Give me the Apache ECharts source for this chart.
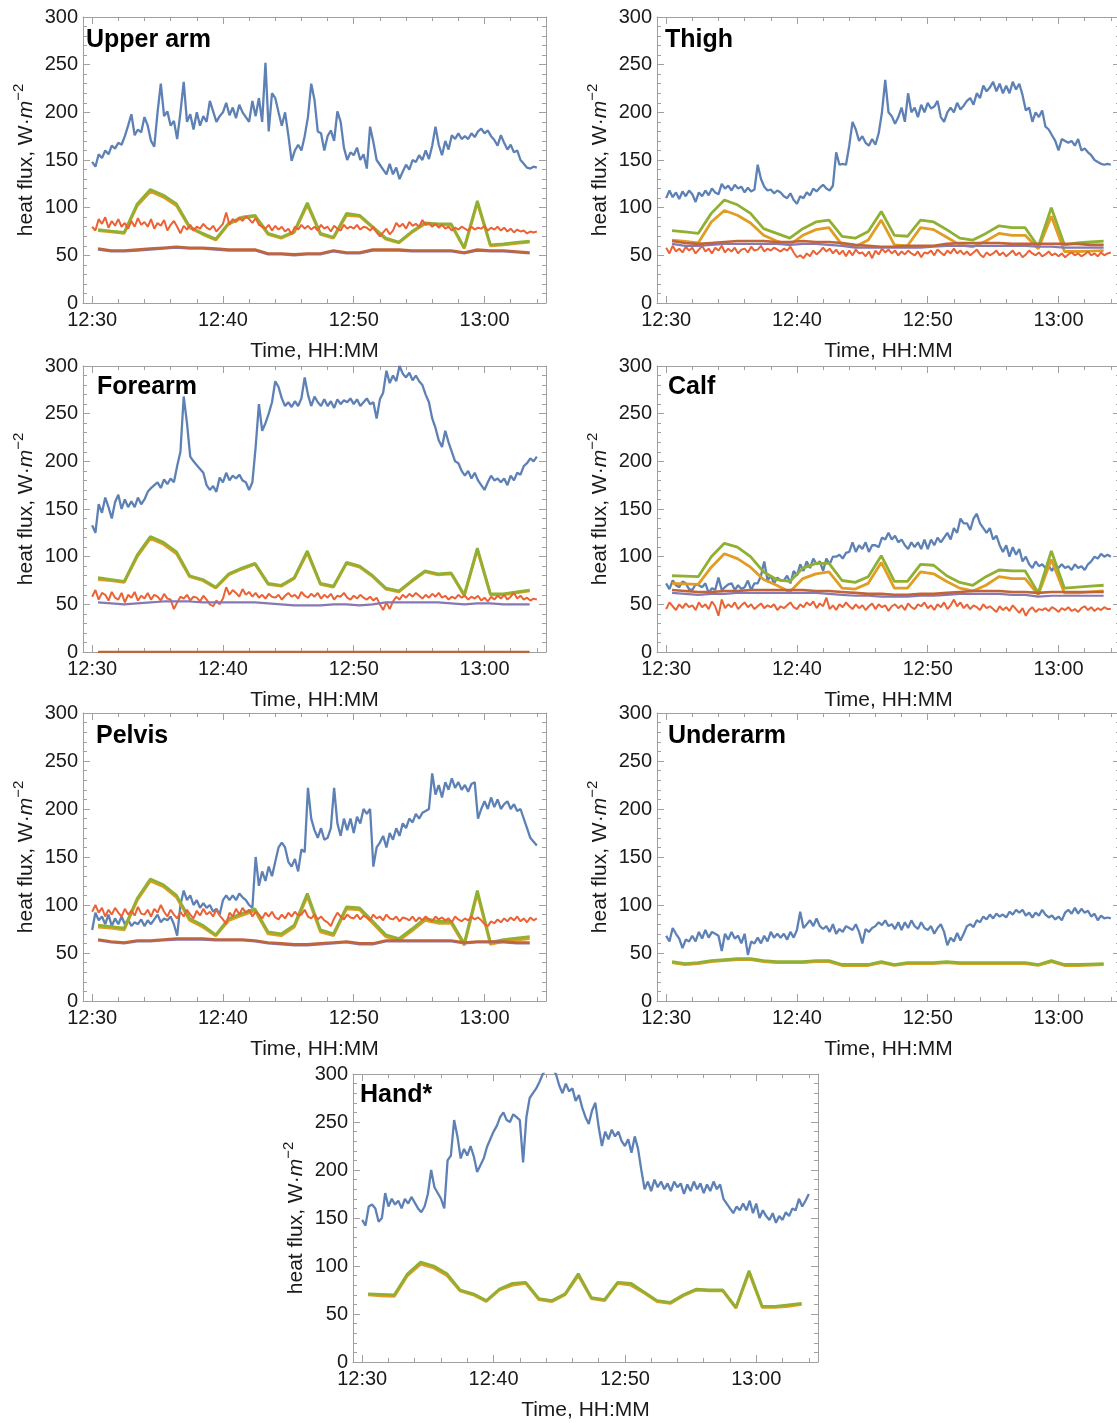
<!DOCTYPE html>
<html><head><meta charset="utf-8">
<script src="https://cdn.jsdelivr.net/npm/echarts@6/dist/echarts.min.js"></script>
<style>html,body{margin:0;padding:0;background:#fff}#c{width:1117px;height:1423px}</style>
</head><body><div id="c"></div>
<script>
// ---------- axis ticks ----------
const TICK_MINUTES = [0, 10, 20, 30];
const TICK_LABELS = ['12:30', '12:40', '12:50', '13:00'];
const FINE_STEP = 0.25;          // minutes between measured samples (starting 12:30)
const MODEL_T0 = 0.45, MODEL_STEP = 1; // model samples (minutes after 12:30)

// ---------- Upper arm ----------
const UA_BLUE = [148,143,156,152,160,156,165,162,168,166,175,186,198,176,182,179,195,186,170,164,
200,230,196,201,186,191,172,200,232,190,198,182,200,186,196,190,212,201,190,196,
200,210,197,205,194,208,200,195,190,212,196,215,190,252,180,220,215,200,186,200,
176,149,160,166,160,175,195,230,213,180,178,160,175,181,170,201,190,163,150,158,
155,163,150,156,141,185,169,150,145,140,135,146,135,142,130,138,145,140,150,148,
155,150,160,151,165,185,166,155,170,161,176,172,178,172,175,172,178,174,180,183,
178,181,175,171,165,176,168,161,166,158,160,150,146,142,141,143,142];
const UA_RED = [80,76,88,83,90,79,86,81,88,80,84,78,86,80,89,82,85,80,88,78,
84,81,87,76,82,86,80,73,81,77,82,76,80,78,83,79,77,81,75,79,
83,95,82,88,85,90,86,91,88,84,89,82,80,78,82,76,81,77,80,75,
78,72,80,77,82,78,81,77,80,76,82,78,80,75,81,78,76,82,78,80,
78,82,77,80,79,76,80,74,70,74,78,72,76,84,80,83,78,85,81,83,
80,87,82,84,80,83,79,82,78,80,76,79,77,80,78,76,80,77,79,78,
81,76,79,77,80,76,79,75,78,74,77,75,76,73,75,74,75];
const UA_GREEN = [77,75.5,74,104,119,113,104,80,73,67,84,90,92,73,69,75,105,73,69,94,92,80,68,64,75,84,83,83,58,107,61,62,63.5,65];
const UA_ORANGE = [76,74.5,73,102,117,111,102,79,72,66,83,89,91,72,68,74,103,72,68,92,91,79,67,63,74,83,82,82,57,105,60,61,62.5,64];
const UA_PURPLE = [56,54,54,55,56,57,58,57,57,56,55,55,55,51,51,50,51,51,54,52,52,55,55,55,54,54,54,54,52,55,54,54,53,52];
const UA_BROWN = [57,55,55,56,57,58,59,58,58,57,56,56,56,52,52,51,52,52,55,53,53,56,56,56,55,55,55,55,53,56,55,55,54,53];

// ---------- Thigh ----------
const TH_BLUE = [110,118,111,116,109,117,112,118,114,106,116,112,118,113,120,116,114,125,120,123,
118,124,120,122,116,121,117,119,145,130,122,118,119,115,118,116,112,110,115,108,
104,112,110,116,113,120,117,121,124,120,118,123,158,145,146,145,165,190,182,170,
175,168,165,172,166,178,200,234,200,196,188,195,205,190,220,200,205,195,208,200,
210,204,206,212,195,190,200,205,200,210,203,207,212,215,208,220,215,228,222,226,
232,222,230,220,228,220,232,224,230,218,202,205,190,200,195,202,185,182,176,170,
160,172,170,168,170,165,172,160,162,158,155,150,148,146,145,146,145];
const TH_RED = [58,52,60,54,57,53,59,55,58,52,56,60,54,57,52,58,55,60,53,57,
54,58,52,56,57,53,59,55,56,60,54,57,55,58,56,54,57,55,59,53,
48,50,47,52,49,55,51,54,58,54,57,52,56,51,55,49,55,50,56,52,
53,49,54,47,55,51,57,53,56,52,55,50,54,51,55,52,50,54,48,53,
52,55,50,56,53,50,55,52,57,52,55,51,54,50,53,56,51,48,53,50,
52,55,50,53,49,52,55,50,53,48,51,55,52,50,53,49,51,54,50,52,
49,52,48,51,53,50,52,49,51,54,50,52,49,53,50,52,53];
const TH_GREEN = [76,74.5,73,94,108,103,94,78,73,68,78,85,87,70,68,75,96,71,70,87,85,77,68,66,73,81,79,79,59,100,61,63,64,65];
const TH_ORANGE = [66,64.5,63,85,97,92,84,71,65,61,71,77,79,61,59,66,87,61,60,79,77,69,61,59,65,73,71,71,57,91,54,54,54.5,55];
const TH_PURPLE = [62,60,60,61,62,62,62,62,62,61,62,62,61,60,58,58,58,58,58,58,59,60,60,60,60,60,60,60,59,59,58,58,58,58];
const TH_BROWN = [65,63,62,63,64,65,65,65,64,64,65,64,64,63,61,60,59,59,60,60,60,62,63,63,63,63,62,62,62,62,62,62,61,61];

// ---------- Forearm ----------
const FA_BLUE = [133,125,155,146,162,152,140,157,165,150,160,152,158,152,162,155,160,168,172,175,
178,172,181,176,182,178,195,210,268,240,205,200,196,192,188,175,170,174,168,183,
178,188,180,185,182,186,180,178,170,178,215,260,232,240,250,262,284,278,266,258,
262,257,263,258,266,288,270,258,268,262,258,265,258,263,256,265,260,264,262,266,
260,265,258,262,266,260,262,245,265,272,295,282,290,284,300,292,288,293,285,290,
284,280,270,262,245,235,222,215,232,220,210,200,198,190,185,190,182,188,180,175,
170,178,185,180,182,178,182,175,185,180,188,186,195,198,203,200,205];
const FA_RED = [58,65,55,62,60,54,63,57,55,62,52,60,57,63,54,59,56,62,55,60,
58,54,61,56,55,45,52,58,56,60,54,58,57,53,59,55,50,48,54,50,
56,68,60,65,62,58,66,60,63,58,62,57,60,56,61,58,57,60,55,59,
62,58,60,56,63,59,57,61,58,62,56,60,57,61,55,59,58,62,57,55,
59,56,60,57,55,58,54,57,50,44,52,45,53,58,55,60,57,61,58,62,
59,56,60,57,61,58,62,57,59,55,58,56,60,57,59,55,58,56,59,54,
57,53,58,55,59,56,60,55,58,62,56,59,55,57,54,56,55];
const FA_GREEN = [78,76,74,102,121,115,105,80,76,68,82,88,93,72,70,78,106,72,69,94,90,80,67,64,75,85,82,83,60,109,61,61,63,65];
const FA_ORANGE = [76,75,73,100,119,113,103,79,75,67,81,87,92,71,69,77,104,71,68,93,89,79,66,63,74,84,81,82,59,107,60,60,62,64];
const FA_PURPLE = [52,51,50,51,52,53,53,53,52,52,52,52,52,51,50,49,49,49,50,50,49,50,52,52,52,52,52,51,50,51,51,50,50,50];
const FA_BROWN = [0,0,0,0,0,0,0,0,0,0,0,0,0,0,0,0,0,0,0,0,0,0,0,0,0,0,0,0,0,0,0,0,0,0];

// ---------- Calf ----------
const CA_BLUE = [72,66,75,70,68,74,72,66,65,71,70,68,72,62,67,65,78,65,68,71,
72,65,70,66,68,75,65,72,72,80,95,75,80,72,78,75,75,80,72,85,
80,92,85,95,88,98,92,95,85,98,92,100,100,102,98,104,105,115,105,112,
108,115,105,112,112,110,120,118,125,118,122,115,118,112,108,115,110,115,108,118,
108,118,112,120,115,120,125,118,130,125,140,135,135,128,140,145,135,130,125,130,
118,122,112,105,112,100,110,102,108,95,100,92,88,95,90,92,88,90,85,92,
88,92,88,90,86,92,88,90,86,92,95,100,98,103,100,102,100];
const CA_RED = [45,52,48,44,50,46,51,47,49,44,52,47,50,45,53,48,38,55,46,50,
47,52,45,49,52,47,50,45,48,51,46,49,47,50,44,48,46,49,52,47,
45,50,47,52,49,53,46,51,48,57,45,49,44,50,47,52,48,45,50,46,
49,44,48,51,45,50,47,49,43,48,50,46,49,44,51,47,45,50,48,52,
46,49,44,50,47,52,45,49,55,48,52,46,50,45,49,47,44,50,46,48,
45,42,48,44,47,43,49,45,41,46,38,44,47,42,45,44,46,43,47,45,
42,46,44,47,43,45,42,46,48,44,47,43,46,44,47,45,45];
const CA_GREEN = [80,79.5,79,100,114,110,100,84,76,74,88,93,93,75,73,79,101,74,74,92,91,80,73,70,79,86,85,85,62,106,67,68,69,70];
const CA_ORANGE = [72,71.5,71,89,103,98,89,76,70,63,77,82,84,67,66,72,94,67,67,84,82,74,67,64,70,79,77,77,60,97,62,62,63,64];
const CA_PURPLE = [62,61,60,61,61,62,62,62,62,62,62,62,61,60,59,59,58,58,58,59,59,60,61,61,61,61,60,60,58,59,59,59,59,59];
const CA_BROWN = [65,64,63,63,64,64,65,65,65,65,65,64,64,63,62,61,61,60,60,61,61,62,63,64,64,64,63,63,62,63,63,63,63,63];

// ---------- Pelvis ----------
const PE_BLUE = [74,92,84,88,80,90,78,86,80,88,80,85,78,82,80,85,78,84,80,85,
90,82,86,84,88,80,68,100,115,105,110,100,105,97,102,97,100,93,96,90,
105,110,105,110,105,112,108,105,100,97,150,120,135,125,140,130,145,160,165,160,
145,140,148,135,158,155,222,190,178,170,180,168,170,180,222,185,172,190,178,190,
175,192,185,200,195,200,140,160,165,172,160,175,168,180,172,185,180,190,186,195,
190,196,198,200,237,215,225,212,228,220,232,222,228,220,225,218,226,228,190,200,
208,200,212,202,210,200,205,208,200,205,198,200,190,180,170,166,162];
const PE_RED = [93,100,92,97,88,95,90,97,92,88,96,90,94,89,98,91,90,95,88,96,
92,100,93,88,95,90,86,93,88,95,90,86,94,89,96,90,93,88,95,89,
85,80,92,88,96,90,97,92,95,88,93,90,86,92,88,93,87,85,90,86,
92,88,93,89,90,95,88,86,90,85,88,84,82,78,86,92,88,85,90,87,
86,90,85,89,87,84,90,86,88,84,90,86,85,88,83,87,86,84,88,83,
87,84,88,85,83,88,85,87,84,86,82,88,85,83,86,84,88,85,87,84,
80,78,83,81,85,82,86,83,87,84,88,83,86,82,87,84,86];
const PE_GREEN = [79,77.5,76,107,127,121,110,86,79,69,86,91,96,72,70,79,112,74,70,98,97,83,69,65,75,86,83,83,60,115,61,64,65.5,67];
const PE_ORANGE = [77,76,74,105,125,119,108,84,77,68,84,89,94,70,68,77,109,72,68,96,95,81,67,63,73,84,81,81,58,112,59,62,63.5,65];
const PE_PURPLE = [63,61,60,62,62,63,64,64,64,63,63,63,62,60,59,58,58,59,60,61,59,59,62,62,62,62,62,62,60,61,61,61,60,60];
const PE_BROWN = [64,62,61,63,63,64,65,65,65,64,64,64,63,61,60,59,59,60,61,62,60,60,63,63,63,63,63,63,61,62,62,62,61,61];

// ---------- Underarm ----------
const UN_BLUE = [68,62,76,70,65,55,64,62,68,62,72,65,74,66,72,70,68,52,70,64,
72,65,68,60,70,48,62,60,66,60,68,62,72,66,70,66,70,64,72,66,
74,93,76,80,84,78,86,78,75,78,72,80,70,75,72,78,76,74,80,72,
60,75,72,76,78,82,79,84,78,80,75,82,74,82,76,84,78,75,82,76,
74,78,70,76,80,72,58,66,62,71,63,70,78,80,77,84,82,88,85,90,
86,91,88,90,87,93,90,95,92,95,89,92,87,92,89,95,90,87,89,85,
88,84,92,95,91,97,91,96,92,94,88,91,84,89,86,87,86];
const UN_GREEN = [41,39,40,42,43,44,44,42,41,41,41,42,42,38,38,38,41,38,40,40,40,41,40,40,40,40,40,40,38,42,38,38,38.5,39];
const UN_ORANGE = [40,38,39,41,42,43,43,41,40,40,40,41,41,37,37,37,40,37,39,39,39,40,39,39,39,39,39,39,37,41,37,37,37.5,38];

// ---------- Hand* ----------
const HA_BLUE = [148,142,162,164,160,146,150,176,162,170,164,168,160,170,165,172,166,160,156,162,
175,200,182,176,170,160,210,215,252,235,212,222,215,225,214,198,205,212,224,232,
240,246,255,260,252,250,258,255,252,208,255,275,280,285,292,300,305,310,305,300,
288,280,290,282,285,272,278,265,255,248,262,270,245,225,240,232,242,235,240,230,
225,232,218,235,222,200,180,188,178,190,182,188,180,186,178,188,182,186,175,185,
178,188,180,186,176,185,178,188,180,185,170,165,160,155,162,158,165,158,168,155,
165,150,158,152,148,155,145,152,148,156,152,160,158,170,162,168,175];
const HA_GREEN = [71,70.5,70,92,104,100,92,75,71,64,76,82,83,66,64,71,92,67,65,83,82,73,64,62,70,76,75,75,57,95,58,58,59.5,61];
const HA_ORANGE = [70,69,68.5,90,102,98,90,74,70,63,75,80,82,65,63,70,90,66,64,82,80,72,63,61,69,75,74,74,56,93,57,57,58,60];

// ---------- styling / layout ----------
const C = {blue:'#5E81B5', orange:'#E19C24', green:'#8FB032', red:'#EB6235', purple:'#8778B3', brown:'#C0643A'};
const W = {blue:2.3, orange:2.8, green:2.8, red:2, purple:2.2, brown:2.6};
const FRAME = '#a0a0a0';
const FONT = 'Liberation Sans, Arial, sans-serif';

const PANELS = [
  {title:'Upper arm', g:[83,17,463,286], t:[86,28], s:{blue:UA_BLUE, orange:UA_ORANGE, green:UA_GREEN, red:UA_RED, purple:UA_PURPLE, brown:UA_BROWN}},
  {title:'Thigh',     g:[657,17,463,286], t:[665,28], s:{blue:TH_BLUE, orange:TH_ORANGE, green:TH_GREEN, red:TH_RED, purple:TH_PURPLE, brown:TH_BROWN}},
  {title:'Forearm',   g:[83,366,463,286], t:[97,375], s:{blue:FA_BLUE, orange:FA_ORANGE, green:FA_GREEN, red:FA_RED, purple:FA_PURPLE, brown:FA_BROWN}},
  {title:'Calf',      g:[657,366,463,286], t:[668,375], s:{blue:CA_BLUE, orange:CA_ORANGE, green:CA_GREEN, red:CA_RED, purple:CA_PURPLE, brown:CA_BROWN}},
  {title:'Pelvis',    g:[83,713,463,288], t:[96,724], s:{blue:PE_BLUE, orange:PE_ORANGE, green:PE_GREEN, red:PE_RED, purple:PE_PURPLE, brown:PE_BROWN}},
  {title:'Underarm',  g:[657,713,463,288], t:[668,724], s:{blue:UN_BLUE, orange:UN_ORANGE, green:UN_GREEN}},
  {title:'Hand*',     g:[353,1074,465,288], t:[360,1083], s:{blue:HA_BLUE, orange:HA_ORANGE, green:HA_GREEN}}
];
const ORDER = ['blue','orange','green','red','purple','brown'];
const FINE_KEYS = {blue:true, red:true};

function fine(arr){ return arr.map((v,i)=>[i*FINE_STEP, v]); }
function model(arr){ return arr.map((v,i)=>[MODEL_T0 + i*MODEL_STEP, v]); }

function tickLabel(v){
  const r = Math.round(v*1000)/1000;
  const i = TICK_MINUTES.indexOf(r);
  return i >= 0 ? TICK_LABELS[i] : '';
}

const grids=[], xAxes=[], yAxes=[], series=[], titles=[];
PANELS.forEach((p, gi) => {
  grids.push({left:p.g[0], top:p.g[1], width:p.g[2], height:p.g[3], containLabel:false, outerBoundsMode:'none'});
  const xb = {type:'value', gridIndex:gi, min:-0.7, max:34.7, splitLine:{show:false}};
  const tick = (len)=>({show:true, inside:true, length:len, lineStyle:{color:FRAME, width:1}});
  // 0: bottom major (labels + name)
  xAxes.push(Object.assign({}, xb, {position:'bottom', minInterval:10, maxInterval:10,
    axisLine:{show:true, onZero:false, lineStyle:{color:FRAME, width:1}},
    axisTick:tick(7),
    axisLabel:{show:true, margin:7, color:'#1a1a1a', fontSize:20, fontFamily:FONT, showMinLabel:false, showMaxLabel:false, formatter:tickLabel},
    name:'Time, HH:MM', nameLocation:'middle', nameGap:38,
    nameTextStyle:{fontSize:21, color:'#1a1a1a', fontFamily:FONT}}));
  // 1: top major (frame)
  xAxes.push(Object.assign({}, xb, {position:'top', minInterval:10, maxInterval:10,
    axisLine:{show:true, onZero:false, lineStyle:{color:FRAME, width:1}},
    axisTick:tick(7), axisLabel:{show:false}}));
  // 2,3: minor ticks (2 min) — one ends up at the bottom, one at the top
  xAxes.push(Object.assign({}, xb, {position:'bottom', minInterval:2, maxInterval:2,
    axisLine:{show:false, onZero:false}, axisTick:tick(4), axisLabel:{show:false}}));
  xAxes.push(Object.assign({}, xb, {position:'top', minInterval:2, maxInterval:2,
    axisLine:{show:false, onZero:false}, axisTick:tick(4), axisLabel:{show:false}}));

  const yb = {type:'value', gridIndex:gi, min:0, max:300, interval:50, splitLine:{show:false},
    axisLine:{show:true, onZero:false, lineStyle:{color:FRAME, width:1}},
    axisTick:tick(7),
    minorTick:{show:true, splitNumber:5, length:4, lineStyle:{color:FRAME, width:1}}};
  yAxes.push(Object.assign({}, yb, {position:'left',
    axisLabel:{show:true, margin:5, color:'#1a1a1a', fontSize:20, fontFamily:FONT},
    name:'{t|heat flux, W·}{i|m}{s|−2}', nameLocation:'middle', nameGap:42, nameRotate:90,
    nameTextStyle:{fontSize:21, color:'#1a1a1a', fontFamily:FONT,
      rich:{t:{fontSize:21, lineHeight:30, fontFamily:FONT, color:'#1a1a1a'},
            i:{fontSize:21, lineHeight:30, fontStyle:'italic', fontFamily:FONT, color:'#1a1a1a'},
            s:{fontSize:15, lineHeight:15, verticalAlign:'top', fontFamily:FONT, color:'#1a1a1a'}}}}));
  yAxes.push(Object.assign({}, yb, {position:'right', axisLabel:{show:false}}));

  ORDER.forEach(k => {
    if (!p.s[k]) return;
    series.push({type:'line', xAxisIndex:gi*4, yAxisIndex:gi*2, showSymbol:false, symbol:'none',
      silent:true, animation:false, clip:true,
      data: FINE_KEYS[k] ? fine(p.s[k]) : model(p.s[k]),
      lineStyle:{color:C[k], width:W[k]}, itemStyle:{color:C[k]}});
  });

  titles.push({text:p.title, left:p.t[0], top:p.t[1], padding:0,
    textStyle:{fontSize:25, fontWeight:'bold', color:'#000', fontFamily:FONT}});
});

const chart = echarts.init(document.getElementById('c'), null, {renderer:'canvas'});
chart.setOption({animation:false, backgroundColor:'#fff', title:titles, grid:grids, xAxis:xAxes, yAxis:yAxes, series:series});
</script></body></html>
